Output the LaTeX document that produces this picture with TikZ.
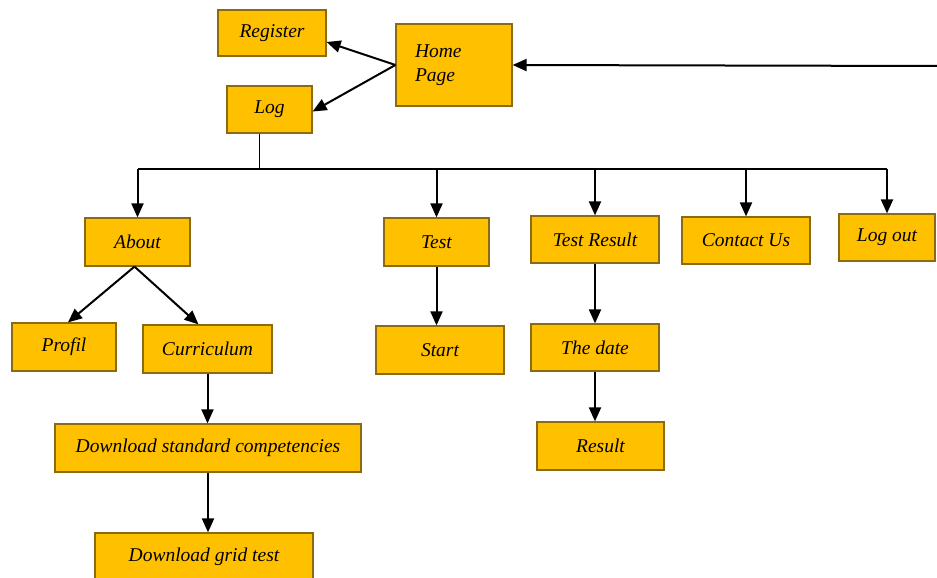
\documentclass[tikz,border=0pt]{standalone}
\usepackage{fontspec}
\setmainfont{Liberation Serif}
\usetikzlibrary{arrows.meta}
\definecolor{boxfill}{HTML}{FFC000}
\definecolor{boxline}{HTML}{8A6A12}

\tikzset{
  box/.style={draw=boxline, fill=boxfill, line width=1.2pt, inner sep=0pt,
    minimum height=48pt, font=\fontsize{19.5}{24}\selectfont\itshape},
  arr/.style={-{Triangle[length=14pt,width=12pt]}, line width=2pt},
  bus/.style={line width=1.2pt}
}

\begin{document}
\begin{tikzpicture}[x=1pt,y=-1pt]
                \useasboundingbox (0,0) rectangle (937,578);

                % Top: home page, register and log
                \node[box, minimum width=108pt, minimum height=46pt] (register) at (272,33) {Register};
                \node[box, minimum width=116pt, minimum height=82pt, inner xsep=19pt,
                  text width=78pt, align=left] (home) at (454,65) {Home\\Page\\[16pt]};
                \node[box, minimum width=85pt, minimum height=47pt] (log) at (269.5,109.5) {Log};
                \coordinate (entry) at (937,66);

                % Menu row
                \node[box, minimum width=105pt] (about) at (137.5,242) {About};
                \node[box, minimum width=105pt] (test) at (436.5,242) {Test};
                \node[box, minimum width=128pt, minimum height=47pt] (tres) at (595,239.5) {Test Result};
                \node[box, minimum width=128pt, minimum height=47pt] (contact) at (746,240.5) {Contact Us};
                \node[box, minimum width=96pt, minimum height=47pt] (logout) at (887,237.5) {Log out};

                % Sub pages
                \node[box, minimum width=104pt] (profil) at (64,347) {Profil};
                \node[box, minimum width=129pt] (curr) at (207.5,349) {Curriculum};
                \node[box, minimum width=306pt] (dsc) at (208,448) {Download standard competencies};
                \node[box, minimum width=218pt] (dgt) at (204,557) {Download grid test};
                \node[box, minimum width=128pt] (start) at (440,350) {Start};
                \node[box, minimum width=128pt, minimum height=47pt] (date) at (595,347.5) {The date};
                \node[box, minimum width=127pt] (result) at (600.5,446) {Result};

                % Arrows round the home page
                \draw[arr] (entry) -- (home.east);
                \draw[arr] (home.west) -- ([yshift=-9pt]register.east);
                \draw[arr] (home.west) -- ([yshift=-2pt]log.east);

                % Bus line under log
                \coordinate (bus) at (259,169);
                \draw[bus] ([xshift=-10pt]log.south) -- ([xshift=-10pt]log.south |- bus);
                \draw[bus] (about.north |- bus) -- (logout.north |- bus);
                \foreach \n in {about,test,tres,contact,logout}
                  \draw[arr] (\n.north |- bus) -- (\n.north);

                % Branches below the menu
                \draw[arr] ([xshift=-3pt]about.south) -- ([xshift=4pt]profil.north);
                \draw[arr] ([xshift=-3pt]about.south) -- ([xshift=-9pt]curr.north);
                \draw[arr] (curr.south) -- (curr.south |- dsc.north);
                \draw[arr] (dsc.south) -- (dsc.south |- dgt.north);
                \draw[arr] (test.south) -- (test.south |- start.north);
                \draw[arr] (tres.south) -- (tres.south |- date.north);
                \draw[arr] (date.south) -- (date.south |- result.north);
\end{tikzpicture}
\end{document}
